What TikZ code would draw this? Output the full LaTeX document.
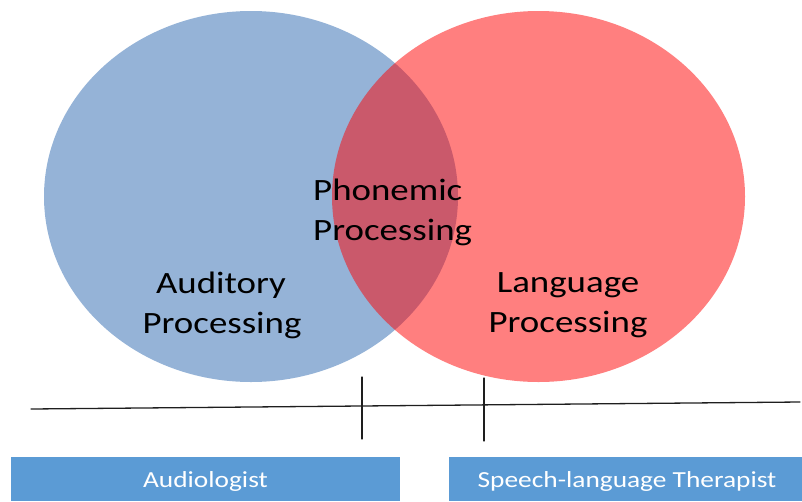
\documentclass[tikz,border=0pt]{standalone}
\usepackage{fontspec}
\newfontfamily\calib{Carlito}[FakeStretch=1.19]
\usetikzlibrary{shapes.geometric}
\definecolor{vblue}{RGB}{149,179,215}
\definecolor{boxblue}{RGB}{91,155,213}
\definecolor{linegray}{RGB}{30,30,30}
\tikzset{
  venn/.style={ellipse, inner sep=0pt, draw=none},
  lbl/.style={inner sep=0pt, text=black, font=\calib\fontsize{31}{40}\selectfont},
  rolebox/.style={rectangle, fill=boxblue, draw=none, inner sep=0pt},
  roletext/.style={inner sep=0pt, text=white, font=\calib\fontsize{23}{28}\selectfont},
  axis/.style={draw=linegray, line width=1.3pt, line cap=round},
}
\begin{document}
\begin{tikzpicture}[x=1pt,y=-1pt]
\useasboundingbox (0,0) rectangle (802,501);
% circles
\node[venn, fill=vblue, minimum width=414pt, minimum height=371pt] (aud) at (251,196.5) {};
\node[venn, fill=red, fill opacity=0.5, minimum width=413pt, minimum height=371pt] (lang) at (538.5,196.5) {};
% labels
\node[lbl, anchor=base] (aud1) at (221,293) {Auditory};
\node[lbl, anchor=base] (aud2) at (222,333) {Processing};
\node[lbl, anchor=base west] (pho1) at (313,200) {Phonemic};
\node[lbl, anchor=base west] (pho2) at (313,240) {Processing};
\node[lbl, anchor=base] (lan1) at (568,292) {Language};
\node[lbl, anchor=base] (lan2) at (568,332) {Processing};
% axis line and ticks
\coordinate (L) at (31,409);
\coordinate (R) at (800,402);
\coordinate (t1a) at (362,377);
\coordinate (t1b) at (362,439);
\coordinate (t2a) at (484,378);
\coordinate (t2b) at (484,441);
\draw[axis] (L) -- (R);
\draw[axis] (t1a) -- (t1b);
\draw[axis] (t2a) -- (t2b);
% role boxes
\node[rolebox, minimum width=389pt, minimum height=44pt] (audbox) at (205.5,479) {};
\node[rolebox, minimum width=353pt, minimum height=44pt] (slpbox) at (625.5,479) {};
\node[roletext, anchor=base] (audtxt) at (205.5,487) {Audiologist};
\node[roletext, anchor=base] (slptxt) at (627,487) {Speech-language Therapist};
\end{tikzpicture}
\end{document}
